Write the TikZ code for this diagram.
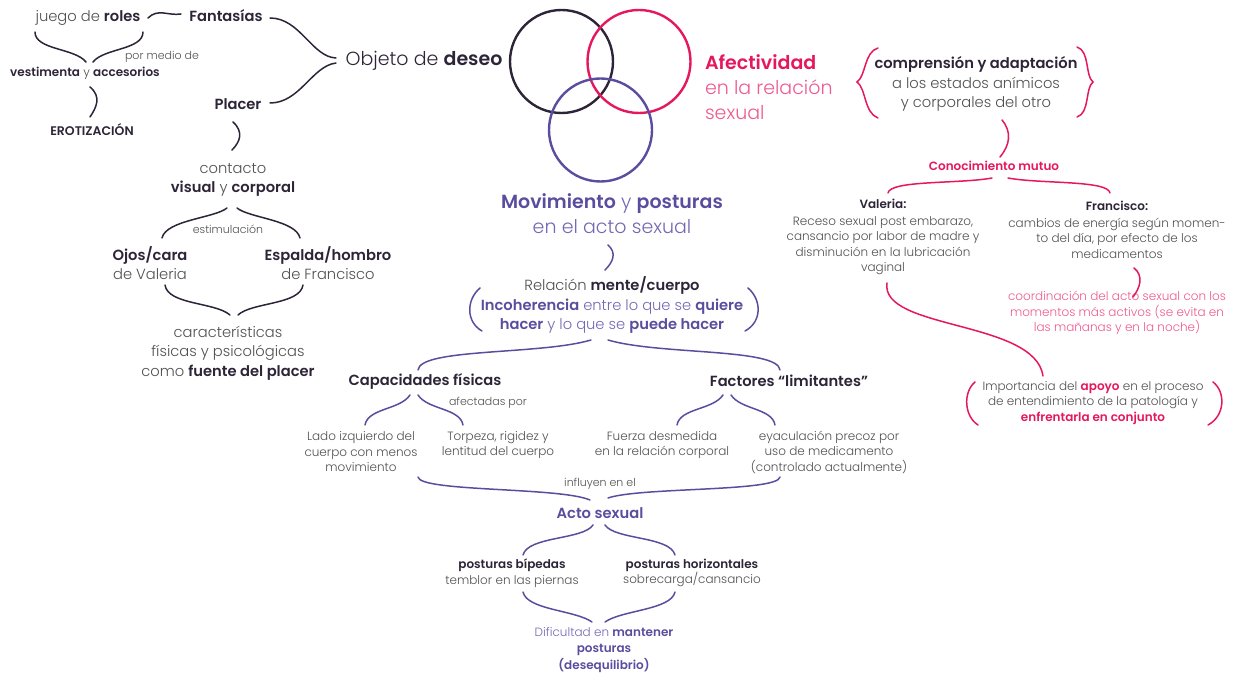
\documentclass[tikz,border=0pt]{standalone}
\usepackage{fontspec}
\setmainfont{Poppins}[UprightFont=* Light, BoldFont=* SemiBold]
\definecolor{dk}{HTML}{2D2438}
\definecolor{gr}{HTML}{505050}
\definecolor{pk}{HTML}{E5185F}
\definecolor{lpk}{HTML}{EE5A90}
\definecolor{pu}{HTML}{5B4D9E}
\definecolor{lpu}{HTML}{7468B4}
\newcommand{\bd}[1]{\textcolor{dk}{\bfseries #1}}
\newcommand{\bp}[1]{\textcolor{pu}{\bfseries #1}}
\newcommand{\bk}[1]{\textcolor{pk}{\bfseries #1}}
\tikzset{
  T/.style={inner sep=0pt, outer sep=0pt, align=center, text=gr},
  big/.style={T, font=\fontsize{19}{25}\selectfont},
  med/.style={T, font=\fontsize{14.7}{19.5}\selectfont},
  sml/.style={T, font=\fontsize{12}{15.5}\selectfont},
  tny/.style={T, font=\fontsize{11}{13}\selectfont},
  dkl/.style={draw=dk, line width=1.5pt, line cap=round},
  pul/.style={draw=pu, line width=1.5pt, line cap=round},
  pkl/.style={draw=pk, line width=1.5pt, line cap=round},
  venn/.style={circle, inner sep=0pt, outer sep=0pt, minimum size=103pt, line width=2.4pt}
}
\begin{document}
\begin{tikzpicture}[x=1pt,y=-1pt]
\useasboundingbox (0,0) rectangle (1248,676);
% ---------- Venn ----------
\node[venn, draw=dk] (cdk) at (561.5,61.5) {};
\node[venn, draw=pk] (cpk) at (639,61.5) {};
\node[venn, draw=pu] (cpu) at (600.5,130) {};
% ---------- left texts ----------
\node[med] (juego) at (88,18) {juego de \bd{roles}};
\node[med] (fant) at (226,16) {\bd{Fantasías}};
\node[tny] (pormedio) at (162,57) {por medio de};
\node[sml] (vest) at (85,73) {\bd{vestimenta} y \bd{accesorios}};
\node[sml, font=\fontsize{12.5}{15}\selectfont] (erot) at (92,130) {\bd{EROTIZACIÓN}};
\node[med] (placer) at (238,104) {\bd{Placer}};
\node[big, text=dk] (objeto) at (424,61) {Objeto de \textbf{deseo}};
\node[med] (cont) at (233,180) {contacto\\\bd{visual} y \bd{corporal}};
\node[tny] (estim) at (228,229) {estimulación};
\node[med] (ojos) at (150,263) {\bd{Ojos/cara}\\de Valeria};
\node[med] (esp) at (328,263) {\bd{Espalda/hombro}\\de Francisco};
\node[med] (carac) at (228,353) {características\\físicas y psicológicas\\como \bd{fuente del placer}};
% ---------- center texts ----------
\node[big, anchor=west, align=left, text=lpk] (afect) at (705,87) {\bk{Afectividad}\\en la relación\\sexual};
\node[big, text=lpu] (mov) at (612,214) {\bp{Movimiento} y \bp{posturas}\\en el acto sexual};
\node[med] (rel) at (612,305) {Relación \bd{mente/cuerpo}\\\textcolor{lpu}{\bp{Incoherencia} entre lo que se \bp{quiere}}\\\textcolor{lpu}{\bp{hacer} y lo que se \bp{puede hacer}}};
\node[med] (cap) at (425,381) {\bd{Capacidades físicas}};
\node[med] (fact) at (789,381) {\bd{Factores “limitantes”}};
\node[tny] (afec) at (488,403) {afectadas por};
\node[sml] (lado) at (361,452) {Lado izquierdo del\\cuerpo con menos\\movimiento};
\node[sml] (torp) at (498,445) {Torpeza, rigidez y\\lentitud del cuerpo};
\node[sml] (fuer) at (662,445) {Fuerza desmedida\\en la relación corporal};
\node[sml] (eyac) at (829,452) {eyaculación precoz por\\uso de medicamento\\(controlado actualmente)};
\node[tny] (infl) at (600,484) {influyen en el};
\node[med] (acto) at (600,513) {\bp{Acto sexual}};
\node[sml] (bip) at (512,573) {\bd{posturas bípedas}\\temblor en las piernas};
\node[sml] (hor) at (692,573) {\bd{posturas horizontales}\\sobrecarga/cansancio};
\node[sml, font=\fontsize{12}{16.5}\selectfont] (dif) at (604,650) {\textcolor{lpu}{Dificultad en} \bp{mantener}\\\bp{posturas}\\\bp{(desequilibrio)}};
% ---------- right texts ----------
\node[med] (comp) at (976,84) {\bd{comprensión y adaptación}\\a los estados anímicos\\y corporales del otro};
\node[sml] (conoc) at (994,166) {\bk{Conocimiento mutuo}};
\node[sml] (val) at (883,237) {\bd{Valeria:}\\[1pt]Receso sexual post embarazo,\\cansancio por labor de madre y\\disminución en la lubricación\\vaginal};
\node[sml] (fran) at (1117,230) {\bd{Francisco:}\\[1pt]cambios de energía según momen-\\to del día, por efecto de los\\medicamentos};
\node[sml, text=lpk] (coord) at (1117,313) {coordinación del acto sexual con los\\momentos más activos (se evita en\\las mañanas y en la noche)};
\node[sml] (imp) at (1093,403) {Importancia del \bk{apoyo} en el proceso\\de entendimiento de la patología y\\\bk{enfrentarla en conjunto}};
% ---------- connector end points ----------
\coordinate (w1) at (148,18); \coordinate (w2) at (181,14);
\coordinate (j1) at (35,32); \coordinate (j2) at (143,32);
\coordinate (jt1) at (86,62); \coordinate (jt2) at (93,62);
\coordinate (v1) at (90,87); \coordinate (e1) at (90,117);
\coordinate (f1) at (270,18); \coordinate (o1) at (336,58);
\coordinate (p1) at (270,103); \coordinate (o2) at (336,63);
\coordinate (p2) at (233,122); \coordinate (c1) at (232,150);
\coordinate (ct1) at (227,208); \coordinate (ct2) at (237,208);
\coordinate (oj1) at (162,238); \coordinate (es1) at (300,238);
\coordinate (oj2) at (165,285); \coordinate (es2) at (303,285);
\coordinate (ca1) at (230,315); \coordinate (ca2) at (238,315);
\coordinate (m1) at (608,245); \coordinate (r1) at (605,270);
\coordinate (rt1) at (591,340); \coordinate (rt2) at (608,340);
\coordinate (cp1) at (418,370); \coordinate (fc1) at (780,370);
\coordinate (cpt1) at (410,395); \coordinate (cpt2) at (418,395);
\coordinate (ld1) at (365,425); \coordinate (tp1) at (463,425);
\coordinate (fct1) at (723,395); \coordinate (fct2) at (731,395);
\coordinate (fu1) at (677,425); \coordinate (ey1) at (775,425);
\coordinate (ld2) at (418,477); \coordinate (ey2) at (780,477);
\coordinate (a1) at (590,500); \coordinate (a2) at (608,498);
\coordinate (at1) at (593,525); \coordinate (at2) at (605,525);
\coordinate (bp1) at (523,555); \coordinate (hz1) at (675,555);
\coordinate (bp2) at (523,592); \coordinate (hz2) at (675,592);
\coordinate (df1) at (592,622); \coordinate (df2) at (605,622);
\coordinate (cm1) at (1002,120); \coordinate (cn1) at (1000,157);
\coordinate (cnt1) at (992,178); \coordinate (cnt2) at (1008,178);
\coordinate (vl1) at (888,193); \coordinate (fr1) at (1110,193);
\coordinate (fr2) at (1134,268); \coordinate (co1) at (1133,297);
\coordinate (vl2) at (887,283); \coordinate (im1) at (1043,376);
% ---------- dark connectors ----------
\draw[dkl] (w1) .. controls (158,8) and (168,16) .. (w2);
\draw[dkl] (j1) .. controls (35,50) and (75,48) .. (jt1);
\draw[dkl] (j2) .. controls (143,50) and (104,48) .. (jt2);
\draw[dkl] (v1) .. controls (102,97) and (96,108) .. (e1);
\draw[dkl] (f1) .. controls (300,18) and (312,57) .. (o1);
\draw[dkl] (p1) .. controls (300,103) and (312,66) .. (o2);
\draw[dkl] (p2) .. controls (244,132) and (240,142) .. (c1);
\draw[dkl] (ct1) .. controls (215,218) and (166,220) .. (oj1);
\draw[dkl] (ct2) .. controls (249,218) and (296,220) .. (es1);
\draw[dkl] (oj2) .. controls (168,305) and (215,302) .. (ca1);
\draw[dkl] (es2) .. controls (300,305) and (252,302) .. (ca2);
% ---------- purple connectors ----------
\draw[pul] (m1) .. controls (617,253) and (613,262) .. (r1);
\draw[pul] (480,288) .. controls (466,300) and (466,322) .. (482,331);
\draw[pul] (748,288) .. controls (762,300) and (762,322) .. (745,331);
\draw[pul] (rt1) .. controls (540,355) and (420,348) .. (cp1);
\draw[pul] (rt2) .. controls (659,355) and (778,348) .. (fc1);
\draw[pul] (cpt1) .. controls (400,410) and (368,408) .. (ld1);
\draw[pul] (cpt2) .. controls (428,410) and (460,408) .. (tp1);
\draw[pul] (fct1) .. controls (713,410) and (680,408) .. (fu1);
\draw[pul] (fct2) .. controls (741,410) and (772,408) .. (ey1);
\draw[pul] (ld2) .. controls (420,492) and (560,487) .. (a1);
\draw[pul] (ey2) .. controls (778,492) and (640,487) .. (a2);
\draw[pul] (at1) .. controls (583,540) and (528,536) .. (bp1);
\draw[pul] (at2) .. controls (615,540) and (670,536) .. (hz1);
\draw[pul] (bp2) .. controls (527,610) and (575,610) .. (df1);
\draw[pul] (hz2) .. controls (671,610) and (622,610) .. (df2);
% ---------- pink connectors ----------
\draw[pkl] (878,48) .. controls (864,52) and (866,76) .. (857,82) .. controls (866,88) and (864,113) .. (878,118);
\draw[pkl] (1077,47) .. controls (1090,51) and (1085,76) .. (1093,82) .. controls (1085,88) and (1090,113) .. (1077,117);
\draw[pkl] (cm1) .. controls (1012,132) and (1010,145) .. (cn1);
\draw[pkl] (cnt1) .. controls (960,184) and (890,180) .. (vl1);
\draw[pkl] (cnt2) .. controls (1040,184) and (1108,180) .. (fr1);
\draw[pkl] (fr2) .. controls (1144,276) and (1140,288) .. (co1);
\draw[pkl] (vl2) .. controls (880,330) and (1035,320) .. (im1);
\draw[pkl] (975,382) .. controls (963,392) and (964,416) .. (978,425);
\draw[pkl] (1213,382) .. controls (1226,392) and (1225,416) .. (1208,425);
\end{tikzpicture}
\end{document}
